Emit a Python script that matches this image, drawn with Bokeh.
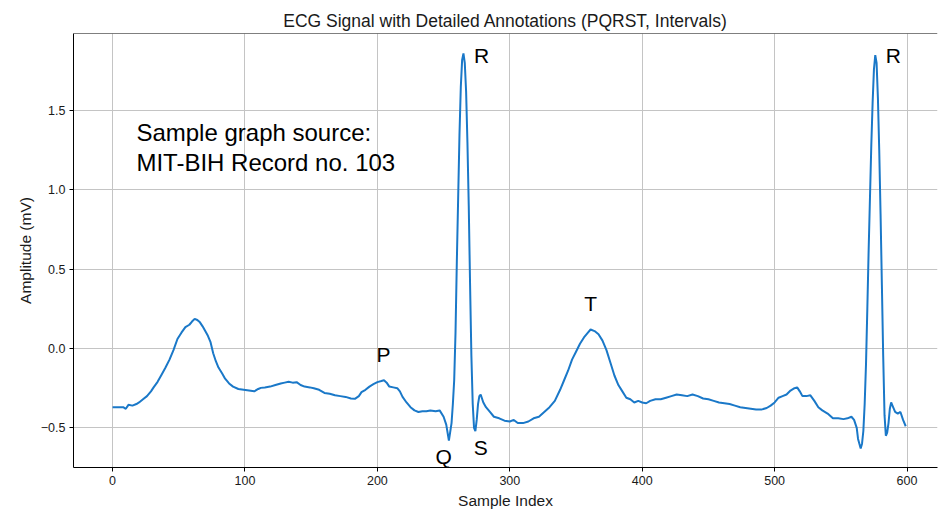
from bokeh.plotting import figure
from bokeh.models import FixedTicker, Span, Range1d
from bokeh.core.properties import value
from bokeh.embed import file_html
from bokeh.resources import INLINE

# ---- data ----
sample_idx = [0, 4, 8, 10, 12, 15, 18, 20, 23, 26, 29, 31, 34, 37, 40, 43, 46, 49, 52, 55, 58, 60, 62, 64, 66, 68,
              70, 72, 74, 76, 78, 80, 83, 85, 88, 91, 95, 99, 103, 107, 110, 112, 115, 119, 123, 127, 130, 133, 136,
              139, 142, 145, 149, 152, 156, 160, 164, 168, 172, 176, 180, 183, 186, 188, 191, 194, 197, 200, 203, 205,
              207, 209, 212, 215, 217, 219, 222, 225, 228, 231, 234, 237, 240, 244, 247, 250, 252, 254, 256, 257, 258,
              259, 260, 261, 262, 263, 264, 265, 266, 267, 268, 269, 270, 271, 272, 273, 274, 275, 276, 277, 278, 280,
              282, 285, 288, 292, 296, 300, 303, 306, 310, 314, 318, 322, 326, 330, 334, 338, 341, 344, 347, 350, 353,
              356, 359, 361, 364, 367, 370, 373, 376, 379, 382, 385, 388, 391, 394, 397, 400, 403, 406, 410, 414, 418,
              422, 426, 430, 434, 438, 442, 446, 450, 454, 458, 462, 466, 470, 474, 478, 482, 486, 490, 494, 497, 500,
              503, 506, 509, 512, 515, 517, 519, 521, 524, 527, 530, 533, 536, 540, 544, 548, 552, 555, 558, 560, 562,
              563, 565, 566, 567, 568, 569, 570, 571, 572, 573, 574, 575, 576, 577, 578, 579, 580, 581, 582, 583, 584,
              585, 586, 587, 588, 589, 591, 593, 595, 597, 599]
amplitude = [-0.37, -0.37, -0.37, -0.38, -0.355, -0.36, -0.35, -0.34, -0.32, -0.30, -0.27, -0.245, -0.21, -0.165,
             -0.12, -0.07, -0.01, 0.06, 0.10, 0.135, 0.15, 0.17, 0.187, 0.18, 0.165, 0.14, 0.11, 0.08, 0.04, -0.03,
             -0.08, -0.12, -0.16, -0.19, -0.22, -0.24, -0.255, -0.26, -0.265, -0.27, -0.255, -0.248, -0.245, -0.24,
             -0.23, -0.22, -0.215, -0.21, -0.215, -0.212, -0.23, -0.24, -0.245, -0.25, -0.26, -0.28, -0.285, -0.295,
             -0.30, -0.305, -0.315, -0.317, -0.30, -0.275, -0.26, -0.24, -0.225, -0.212, -0.205, -0.20, -0.215, -0.24,
             -0.245, -0.25, -0.27, -0.305, -0.34, -0.37, -0.39, -0.40, -0.395, -0.395, -0.39, -0.395, -0.39, -0.43,
             -0.48, -0.58, -0.47, -0.35, -0.20, 0.10, 0.55, 0.95, 1.35, 1.65, 1.82, 1.86, 1.80, 1.62, 1.30, 0.90, 0.40,
             -0.05, -0.35, -0.50, -0.52, -0.45, -0.35, -0.30, -0.29, -0.34, -0.37, -0.40, -0.43, -0.44, -0.455, -0.46,
             -0.45, -0.47, -0.47, -0.46, -0.44, -0.43, -0.40, -0.37, -0.33, -0.26, -0.20, -0.14, -0.07, -0.02, 0.03,
             0.07, 0.10, 0.12, 0.11, 0.09, 0.05, -0.01, -0.09, -0.17, -0.23, -0.27, -0.31, -0.32, -0.34, -0.33, -0.34,
             -0.345, -0.33, -0.32, -0.32, -0.31, -0.30, -0.29, -0.295, -0.30, -0.29, -0.30, -0.315, -0.32, -0.33,
             -0.34, -0.345, -0.35, -0.36, -0.37, -0.375, -0.38, -0.385, -0.385, -0.375, -0.36, -0.34, -0.31, -0.30,
             -0.29, -0.265, -0.25, -0.245, -0.27, -0.30, -0.30, -0.295, -0.33, -0.37, -0.39, -0.41, -0.44, -0.44,
             -0.445, -0.44, -0.43, -0.45, -0.50, -0.57, -0.63, -0.60, -0.52, -0.35, -0.10, 0.25, 0.62, 0.95, 1.28,
             1.55, 1.76, 1.85, 1.80, 1.58, 1.25, 0.85, 0.40, -0.05, -0.42, -0.55, -0.53, -0.47, -0.38, -0.34, -0.36,
             -0.40, -0.41, -0.40, -0.45, -0.49]

wave_labels = ["P", "Q", "R", "S", "T", "R"]
wave_x = [204.6, 250, 278.6, 278, 361, 589.7]
wave_y = [-0.04, -0.68, 1.847, -0.624, 0.284, 1.847]

source_lines = ["Sample graph source:", "MIT-BIH Record no. 103"]
source_x = [18, 18]
source_y = [1.362, 1.173]

x_ticks = [0, 100, 200, 300, 400, 500, 600]
y_ticks = [-0.5, 0.0, 0.5, 1.0, 1.5]
y_tick_labels = ["\u22120.5", "0.0", "0.5", "1.0", "1.5"]

FONT = "Liberation Sans"

p = figure(width=938, height=511, output_backend="svg", toolbar_location=None,
           x_range=Range1d(-29.5, 623.0), y_range=Range1d(-0.750, 1.986),
           title="ECG Signal with Detailed Annotations (PQRST, Intervals)",
           min_border_left=73, min_border_right=1, min_border_top=33, min_border_bottom=44)

p.title.align = "center"
p.title.text_font = FONT
p.title.text_font_size = "17.5px"
p.title.text_font_style = "normal"
p.title.text_color = "#1a1a1a"
p.title.standoff = 5
p.title.offset = 0

p.outline_line_color = None
p.background_fill_color = "white"
p.border_fill_color = "white"

p.line(sample_idx, amplitude, line_color="#1a78c8", line_width=2)

p.text(x=wave_x, y=wave_y, text=wave_labels, text_font=value(FONT), text_font_size="21px",
       text_align="center", text_baseline="middle", text_color="black")
p.text(x=source_x, y=source_y, text=source_lines, text_font=value(FONT), text_font_size="24px",
       text_align="left", text_baseline="middle", text_color="black")

p.xaxis.ticker = FixedTicker(ticks=x_ticks)
p.yaxis.ticker = FixedTicker(ticks=y_ticks)
p.yaxis.major_label_overrides = {t: l for t, l in zip(y_ticks, y_tick_labels)}

for ax in (p.xaxis[0], p.yaxis[0]):
    ax.axis_line_color = "black"
    ax.axis_line_width = 1
    ax.major_tick_line_color = "black"
    ax.major_tick_out = 4
    ax.major_tick_in = 0
    ax.minor_tick_line_color = None
    ax.major_label_text_font = FONT
    ax.major_label_text_font_size = "12.5px"
    ax.major_label_text_color = "#1a1a1a"
    ax.major_label_standoff = 4
    ax.axis_label_text_font = FONT
    ax.axis_label_text_font_size = "15.5px"
    ax.axis_label_text_font_style = "normal"
    ax.axis_label_text_color = "#1a1a1a"
    ax.axis_label_standoff = 4

p.xaxis.axis_label = "Sample Index"
p.yaxis.axis_label = "Amplitude (mV)"

p.xgrid.ticker = FixedTicker(ticks=x_ticks)
p.ygrid.ticker = FixedTicker(ticks=y_ticks)
p.grid.grid_line_color = "#c4c4c4"
p.grid.grid_line_width = 1

top_spine = Span(location=1.986, dimension="width", line_color="black", line_width=1)
p.add_layout(top_spine)

open("out.html", "w").write(file_html(p, INLINE))
